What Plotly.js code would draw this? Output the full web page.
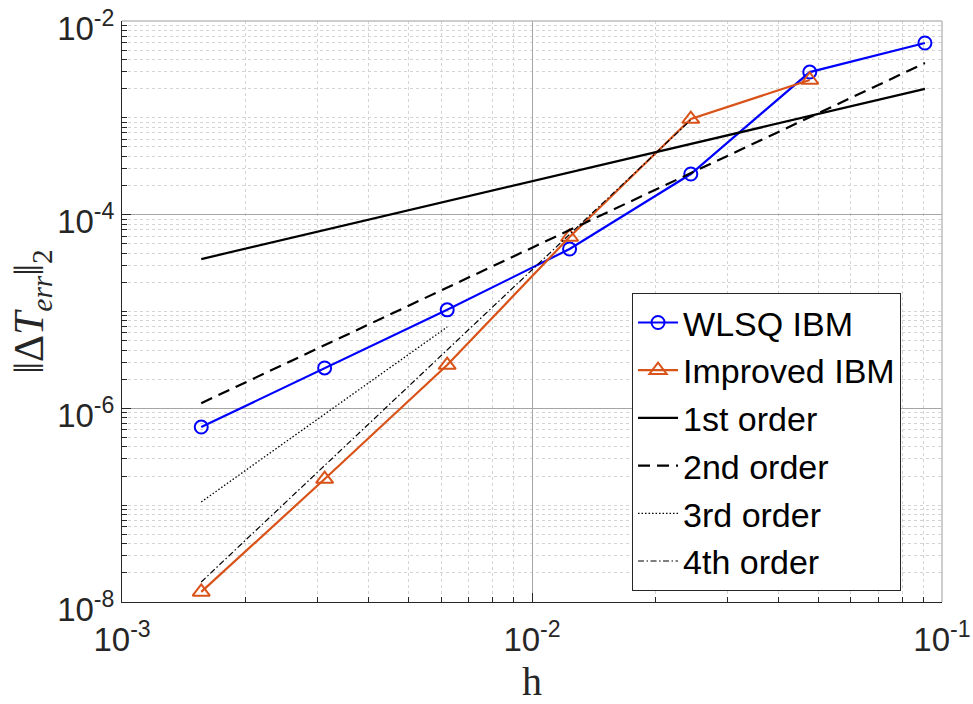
<!DOCTYPE html>
<html>
<head>
<meta charset="utf-8">
<script src="https://cdn.plot.ly/plotly-3.0.1.min.js"></script>
<style>html,body{margin:0;padding:0;background:#fff;}</style>
</head>
<body>
<div id="chart" style="width:973px;height:704px;"></div>
<script>
// mesh spacing h
var h = [0.00156, 0.00312, 0.00621, 0.01235, 0.0244, 0.0476, 0.0909];
// error norms
var wlsqErr = [6.41e-7, 2.61e-6, 1.04e-5, 4.42e-5, 2.63e-4, 2.97e-3, 5.93e-3];
var impH = [0.00156, 0.00312, 0.00621, 0.01235, 0.0244, 0.0476];
var impErr = [1.27e-8, 1.86e-7, 2.80e-6, 5.88e-5, 9.72e-4, 2.46e-3];
// reference slopes
var o1H = [0.00156, 0.0909], o1Err = [3.48e-5, 1.99e-3];
var o2H = [0.00156, 0.0909], o2Err = [1.13e-6, 3.68e-3];
var o3H = [0.00156, 0.00621], o3Err = [1.08e-7, 6.92e-6];
var o4H = [0.00156, 0.0244], o4Err = [1.61e-8, 9.5e-4];
var names = ['WLSQ IBM', 'Improved IBM', '1st order', '2nd order', '3rd order', '4th order'];
var xTickVals = [0.001, 0.01, 0.1];
var xTickText = ['10<sup>-3</sup>', '10<sup>-2</sup>', '10<sup>-1</sup>'];
var yTickVals = [1e-8, 1e-6, 1e-4, 1e-2];
var yTickText = ['10<sup>-8</sup>', '10<sup>-6</sup>', '10<sup>-4</sup>', '10<sup>-2</sup>'];

var traces = [
  {x: h, y: wlsqErr, name: names[0], legendgroup: 'a', mode: 'lines+markers',
   line: {color: '#0000ff', width: 2.2}, marker: {symbol: 'circle-open', size: 13, color: '#0000ff', line: {width: 2}}},
  {x: impH, y: impErr, name: names[1], legendgroup: 'b', mode: 'lines+markers',
   line: {color: '#d95319', width: 2.2}, marker: {symbol: 'triangle-up-open', size: 15, color: '#d95319', line: {width: 2}}},
  {x: o1H, y: o1Err, name: names[2], legendgroup: 'c', mode: 'lines', line: {color: '#000', width: 2.2}},
  {x: o2H, y: o2Err, name: names[3], legendgroup: 'd', mode: 'lines', line: {color: '#000', width: 2.2, dash: '12px,7px'}},
  {x: o3H, y: o3Err, name: names[4], legendgroup: 'e', mode: 'lines', line: {color: '#000', width: 1.3, dash: '1.5px,2px'}},
  {x: o4H, y: o4Err, name: names[5], legendgroup: 'f', mode: 'lines', line: {color: '#000', width: 1.2, dash: '6px,2.5px,1.5px,2.5px'}}
];

var tickFont = {family: 'Arial, "Liberation Sans", sans-serif', size: 33, color: '#262626'};
var common = {
  type: 'log', ticks: 'inside', ticklen: 9, tickwidth: 1, tickcolor: '#262626',
  showline: true, linecolor: '#262626', linewidth: 1, mirror: false,
  showgrid: true, gridcolor: '#a6a6a6', gridwidth: 1, zeroline: false,
  tickmode: 'array', tickfont: tickFont, ticklabeloverflow: 'allow',
  minor: {dtick: 'D1', ticks: 'inside', ticklen: 5, tickcolor: '#262626',
          showgrid: true, gridcolor: '#d4d4d4', griddash: 'dot', gridwidth: 1}
};

var layout = {
  width: 973, height: 704,
  margin: {l: 122, r: 31, t: 21, b: 102},
  paper_bgcolor: '#fff', plot_bgcolor: '#fff',
  showlegend: true,
  xaxis: Object.assign({}, common, {
    range: [-3.0002, -0.9998], tickvals: xTickVals, ticktext: xTickText, ticklabelstandoff: 8,
    title: {text: 'h', font: {family: '"Liberation Serif", "Times New Roman", serif', size: 40, color: '#262626'}, standoff: 14}
  }),
  yaxis: Object.assign({}, common, {
    range: [-8.0002, -1.9998], tickvals: yTickVals, ticktext: yTickText, ticklabelshift: 7,
    title: {text: '‖Δ<i>T</i><sub><i>err</i></sub>‖<sub>2</sub>', font: {family: '"Liberation Serif", "Times New Roman", serif', size: 42, color: '#262626'}, standoff: 0}
  }),
  legend: {
    x: 0.622, y: 0.532, xanchor: 'left', yanchor: 'top',
    bgcolor: '#fff', bordercolor: '#262626', borderwidth: 1,
    font: {family: 'Arial, "Liberation Sans", sans-serif', size: 34, color: '#000'},
    tracegroupgap: 0.5, traceorder: 'grouped', itemwidth: 40
  },
  shapes: [
    {type: 'line', xref: 'paper', yref: 'paper', x0: 0, x1: 1, y0: 1, y1: 1, line: {color: '#bdbdbd', width: 1.5}},
    {type: 'line', xref: 'paper', yref: 'paper', x0: 1, x1: 1, y0: 0, y1: 1, line: {color: '#bdbdbd', width: 1.5}}
  ]
};

Plotly.newPlot('chart', traces, layout, {displayModeBar: false, staticPlot: true});
</script>
</body>
</html>
